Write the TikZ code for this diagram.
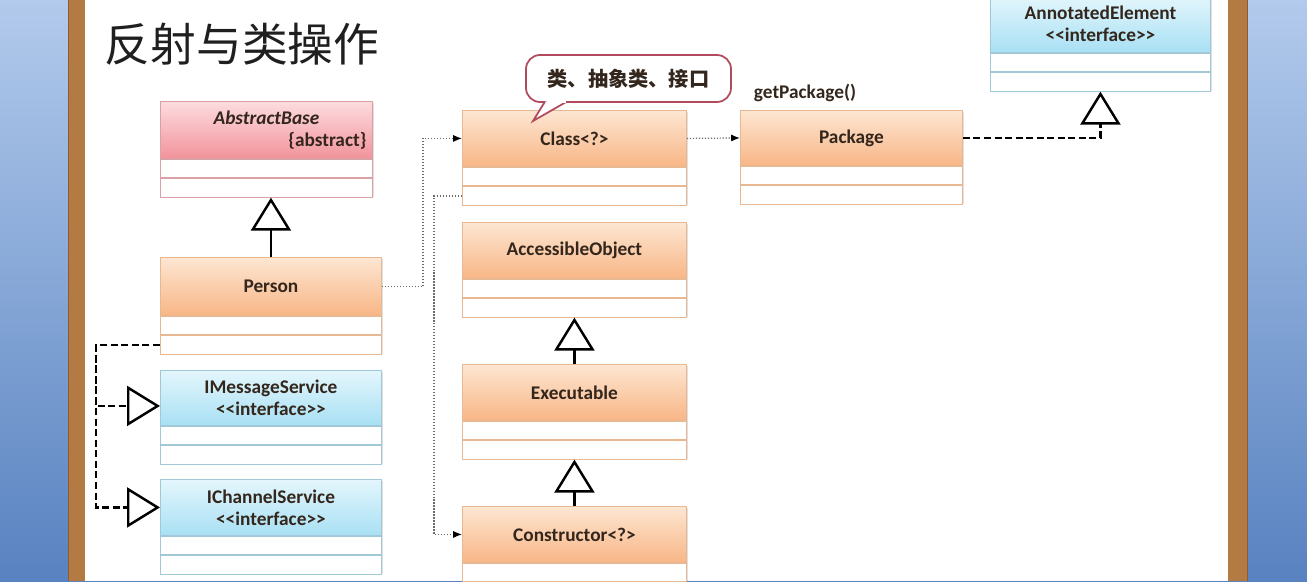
\documentclass[tikz,border=0pt]{standalone}
\usepackage{fontspec}
\setmainfont{Carlito}
\newfontfamily\cjk{Noto Sans CJK SC}
\usetikzlibrary{arrows.meta}
\definecolor{blueT}{HTML}{B2CAEC}
\definecolor{blueB}{HTML}{5882C0}
\definecolor{wood}{HTML}{B47A44}
\definecolor{woodD}{HTML}{8E5C30}
\definecolor{orT}{HTML}{FDE6D2}
\definecolor{orB}{HTML}{F8B686}
\definecolor{orD}{HTML}{E8B892}
\definecolor{pkT}{HTML}{FCDCDF}
\definecolor{pkB}{HTML}{F2939B}
\definecolor{pkD}{HTML}{D9A0A6}
\definecolor{blT}{HTML}{E4F6FC}
\definecolor{blB}{HTML}{A8E0F4}
\definecolor{blD}{HTML}{A0C8D6}
\definecolor{txt}{HTML}{33261C}
\definecolor{depc}{HTML}{6A6A6A}
\definecolor{callc}{HTML}{B04A5C}
\newcommand\umlfont{\bfseries\fontsize{11}{12.5}\selectfont}
\tikzset{
  hdr/.style={inner sep=0pt, align=center, font=\umlfont, text=txt, line width=0.5pt},
  orhdr/.style={top color=orT, bottom color=orB, draw=orD},
  pkhdr/.style={top color=pkT, bottom color=pkB, draw=pkD},
  blhdr/.style={top color=blT, bottom color=blB, draw=blD},
  comp/.style={fill=white, inner sep=0pt, line width=0.5pt},
  gen/.style={draw=black, line width=1.6pt, -{Triangle[open,length=0.66cm,width=0.8cm,line width=1.4pt]}},
  real/.style={gen, dash pattern=on 4pt off 2pt},
  dep/.style={draw=depc, line width=0.7pt, densely dotted, -{Latex[length=5pt,width=4pt,color=black]}},
  callout/.style={draw=callc, line width=1pt, fill=white, rounded corners=8pt, inner sep=0pt,
     font=\cjk\bfseries\fontsize{11.5}{13}\selectfont, text=txt},
}
% name, x, y, width, header height, kind, text
\newcommand\umlbox[7]{%
  \fill[black,opacity=0.12] ({#2+2},{-#3-2}) rectangle ({#2+#4+2},{-#3-#5-39});
  \node[hdr,#6hdr,minimum width={#4*0.02cm},minimum height={#5*0.02cm},anchor=north west] (#1) at (#2,-#3) {#7};
  \node[comp,draw=#6D,minimum width={#4*0.02cm},minimum height={18.5*0.02cm},anchor=north] (#1-a) at (#1.south) {};
  \node[comp,draw=#6D,minimum width={#4*0.02cm},minimum height={18.5*0.02cm},anchor=north] (#1-b) at (#1-a.south) {};
}
\begin{document}
\begin{tikzpicture}[x=0.02cm,y=0.02cm]
\useasboundingbox (0,0) rectangle (1307,-581);
% background
\fill[top color=blueT, bottom color=blueB] (0,0) rectangle (1307,-581);
\fill[wood] (68,0) rectangle (85,-581);
\fill[wood] (1228,0) rectangle (1248,-581);
\draw[woodD,line width=0.6pt] (68.3,0) -- (68.3,-581) (1247.7,0) -- (1247.7,-581);
\fill[white] (85,0) rectangle (1228,-581);
% title
\node[font=\cjk\fontsize{26}{30}\selectfont, text=black!88, inner sep=0pt] (title) at (242,-44) {反射与类操作};
% boxes
\umlbox{abs}{160}{101}{212}{57}{pk}{\begin{minipage}{200\dimexpr0.02cm\relax}\centering{\itshape AbstractBase}\\[0pt]\raggedleft\{abstract\}\end{minipage}}
\umlbox{person}{160}{257}{221}{58}{or}{Person}
\umlbox{imsg}{160}{370}{221}{55}{bl}{IMessageService\\{<}{<}interface{>}{>}}
\umlbox{ichan}{160}{479}{221}{56}{bl}{IChannelService\\{<}{<}interface{>}{>}}
\umlbox{class}{462}{110}{224}{56}{or}{Class<?>}
\umlbox{acc}{462}{222}{224}{56}{or}{AccessibleObject}
\umlbox{exec}{462}{364}{224}{56}{or}{Executable}
\umlbox{ctor}{462}{506}{224}{56}{or}{Constructor<?>}
\umlbox{pkg}{740}{110}{222}{55}{or}{Package}
\umlbox{annot}{990}{-5}{220}{57}{bl}{AnnotatedElement\\{<}{<}interface{>}{>}}
% callout
\node[callout, minimum width={205*0.02cm}, minimum height={47*0.02cm}] (call) at (628.5,-78.5) {类、抽象类、接口};
\coordinate (tip) at (533,-121);
\filldraw[draw=callc, fill=white, line width=1pt, line join=miter] (545,-101.5) -- (tip) -- (567,-101.5);
\fill[white] (546.5,-99) rectangle (565.5,-103);
% label
\node[font=\umlfont, text=txt, inner sep=0pt] (gp) at (805,-93) {getPackage()};
% connectors
\coordinate (j1) at (423,0);
\coordinate (j2) at (434,0);
\coordinate (j3) at (96,0);
\draw[gen] (person.north) -- (person.north |- abs-b.south);
\draw[gen] (exec.north) -- (acc-b.south);
\draw[gen] (ctor.north) -- (exec-b.south);
\draw[dep] (person.east) -- (person.east -| j1) |- (class.west);
\draw[dep] (class-b.west) -- (class-b.west -| j2) |- (ctor.west);
\draw[dep] (class.east) -- (pkg.west);
\draw[real] (pkg.east) -| (annot-b.south);
\coordinate (m1) at ([yshift=-0.16cm]imsg.west);
\draw[real] (person-b.west) -- (person-b.west -| j3) |- (m1);
\draw[real] (person-b.west -| j3) |- (ichan.west);
\end{tikzpicture}
\end{document}
